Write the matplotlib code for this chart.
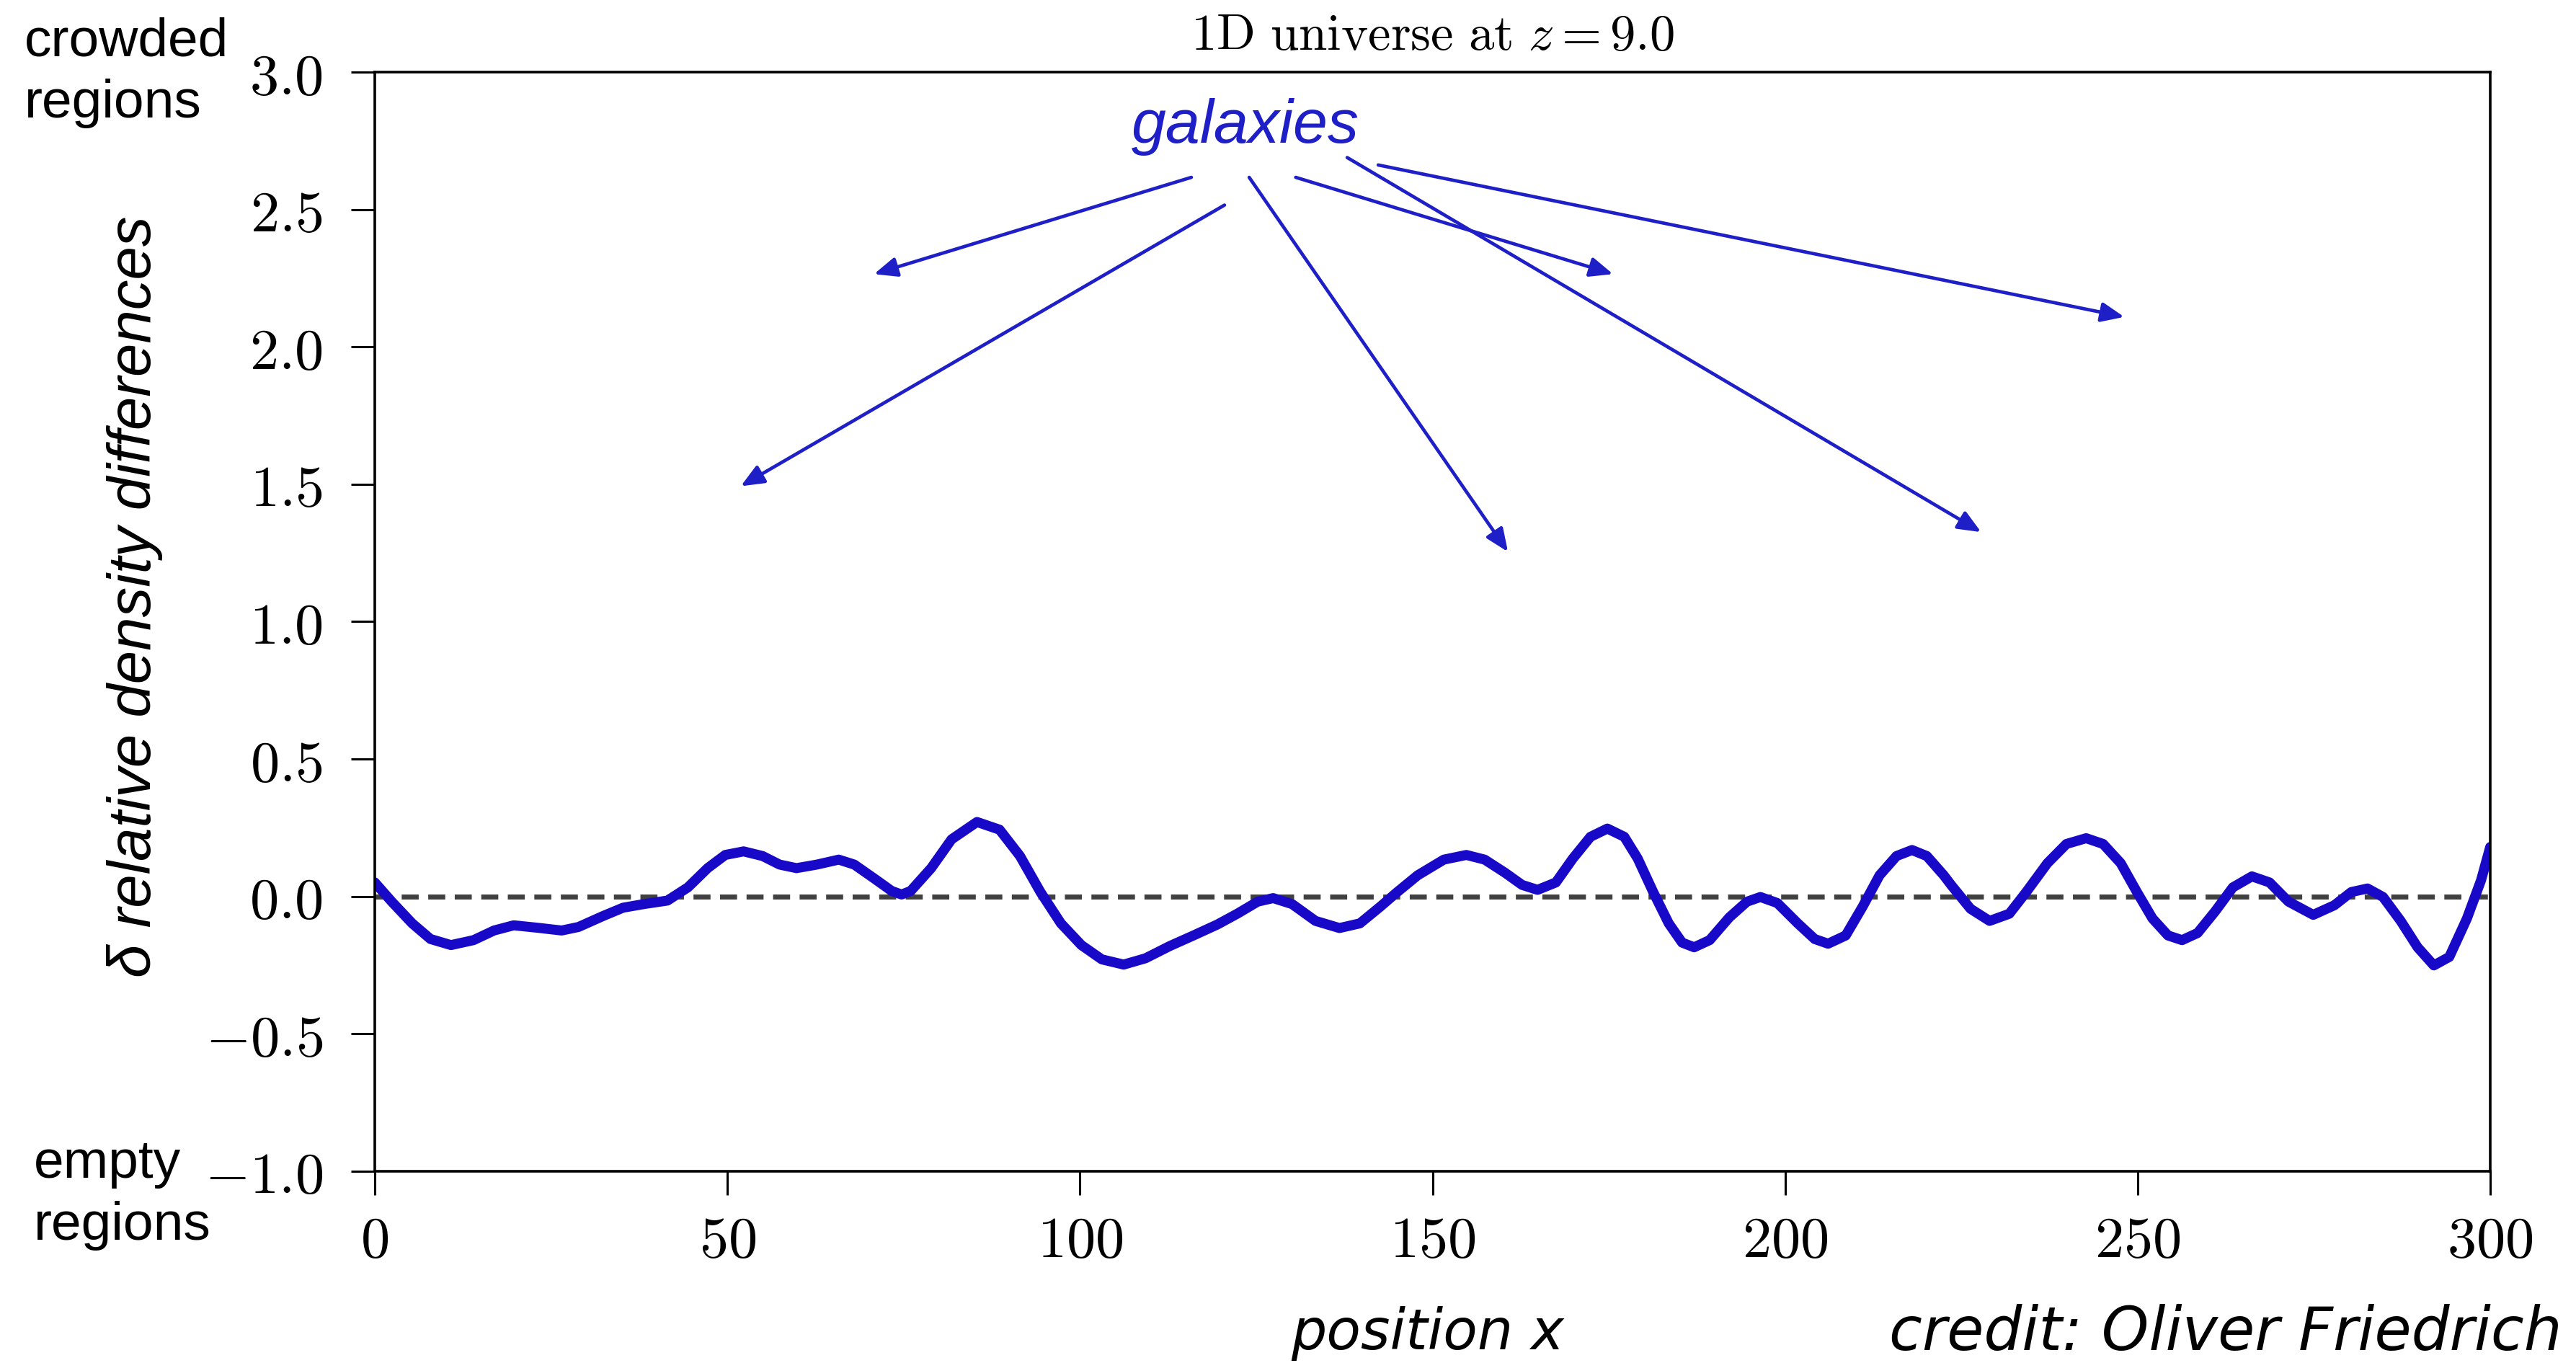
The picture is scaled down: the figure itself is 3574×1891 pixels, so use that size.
import matplotlib
matplotlib.use("Agg")
import matplotlib.pyplot as plt
from matplotlib.ticker import FuncFormatter

plt.rcParams['mathtext.fontset'] = 'cm'

# density contrast along the 1D box
pos_x = [0.0, 2.4, 5.3, 7.9, 10.8, 14.0, 16.9, 19.7, 23.1, 26.5, 28.9, 32.3, 35.2, 38.1,
         41.5, 44.4, 47.2, 49.7, 52.3, 55.0, 57.4, 59.8, 62.7, 65.8, 68.0, 70.9, 73.3,
         74.7, 76.0, 78.9, 81.8, 85.4, 88.6, 91.5, 94.4, 97.3, 100.2, 103.1, 106.2,
         109.3, 112.7, 116.1, 119.5, 122.3, 125.2, 127.4, 130.1, 133.4, 136.8, 139.7,
         142.6, 145.0, 147.9, 151.6, 154.8, 157.4, 160.3, 162.7, 164.9, 167.5, 169.9,
         172.4, 174.8, 177.2, 179.1, 181.3, 183.5, 185.4, 187.1, 189.3, 192.1, 194.6,
         196.5, 198.9, 201.8, 204.2, 206.1, 208.6, 211.0, 213.4, 215.8, 218.0, 220.1,
         222.5, 223.6, 226.3, 229.0, 231.8, 234.2, 237.2, 239.9, 242.7, 245.1, 247.6,
         249.9, 252.1, 254.3, 256.3, 258.5, 261.0, 263.5, 266.2, 268.7, 271.4, 274.9,
         277.9, 280.3, 282.6, 284.8, 287.3, 289.7, 292.0, 294.2, 296.7, 298.7, 300.0]
delta = [0.051, -0.019, -0.098, -0.155, -0.177, -0.159, -0.124, -0.105, -0.114, -0.124,
         -0.111, -0.072, -0.041, -0.028, -0.015, 0.033, 0.103, 0.151, 0.164, 0.147, 0.116,
         0.103, 0.116, 0.134, 0.116, 0.064, 0.020, 0.007, 0.020, 0.103, 0.208, 0.271,
         0.243, 0.147, 0.016, -0.098, -0.177, -0.229, -0.248, -0.225, -0.181, -0.142,
         -0.102, -0.063, -0.019, -0.006, -0.028, -0.089, -0.115, -0.098, -0.037, 0.016,
         0.077, 0.134, 0.151, 0.134, 0.086, 0.042, 0.024, 0.051, 0.138, 0.217, 0.247,
         0.217, 0.138, 0.016, -0.098, -0.168, -0.185, -0.159, -0.076, -0.019, -0.002,
         -0.024, -0.098, -0.155, -0.172, -0.142, -0.037, 0.077, 0.147, 0.169, 0.147,
         0.077, 0.040, -0.045, -0.089, -0.063, 0.016, 0.121, 0.191, 0.212, 0.191, 0.121,
         0.016, -0.080, -0.142, -0.159, -0.133, -0.054, 0.033, 0.073, 0.051, -0.019,
         -0.067, -0.032, 0.016, 0.029, -0.002, -0.089, -0.185, -0.251, -0.220, -0.080,
         0.059, 0.180]

x_ticks = [0, 50, 100, 150, 200, 250, 300]
y_ticks = [-1.0, -0.5, 0.0, 0.5, 1.0, 1.5, 2.0, 2.5, 3.0]

# "galaxies" arrows: tail and head in data units
arrow_tails = [(115.8, 2.617), (120.5, 2.516), (124.0, 2.617),
               (130.6, 2.617), (137.9, 2.689), (142.3, 2.662)]
arrow_heads = [(70.8, 2.265), (51.9, 1.493), (160.7, 1.254),
               (175.6, 2.265), (227.8, 1.326), (248.1, 2.109)]

curve_blue = '#1808c8'
note_blue = '#1f1fc8'

fig = plt.figure(figsize=(17.87, 9.455), dpi=200)
ax = fig.add_axes([0.1455, 0.1407, 0.8212, 0.8064])

ax.axhline(0, color='#404040', lw=2.5, dashes=(3.4, 1.9), zorder=1)
ax.plot(pos_x, delta, color=curve_blue, lw=5.0, solid_joinstyle='round',
        solid_capstyle='round', zorder=2)

ax.set_xlim(0, 300)
ax.set_ylim(-1.0, 3.0)
ax.set_xticks(x_ticks)
ax.set_yticks(y_ticks)
ax.xaxis.set_major_formatter(FuncFormatter(lambda v, p: f"${v:.0f}$"))
ax.yaxis.set_major_formatter(FuncFormatter(lambda v, p: f"${v:.1f}$"))
ax.tick_params(axis='both', direction='out', length=12, width=1.1, labelsize=29)
ax.tick_params(axis='y', pad=14)
ax.tick_params(axis='x', pad=9)
for s in ax.spines.values():
    s.set_linewidth(1.3)

ax.set_title(r"$\mathrm{1D\ universe\ at}\ z = 9.0$", fontsize=25.5, pad=11)

for (tx, ty), (hx, hy) in zip(arrow_tails, arrow_heads):
    ax.annotate("", xy=(hx, hy), xytext=(tx, ty),
                arrowprops=dict(arrowstyle='-|>,head_length=0.4,head_width=0.17',
                                mutation_scale=24, color=note_blue, lw=1.7,
                                shrinkA=0, shrinkB=0))
ax.text(123.5, 2.80, "galaxies", color=note_blue, fontsize=31, style='italic',
        family='Liberation Sans', ha='center', va='center')

fig.text(34 / 3574, 1 - 23 / 1891, "crowded\nregions", fontsize=27,
         family='Liberation Sans', ha='left', va='top', linespacing=1.32)
fig.text(47 / 3574, 1 - 1580 / 1891, "empty\nregions", fontsize=27,
         family='Liberation Sans', ha='left', va='top', linespacing=1.32)
fig.text(187 / 3574, 1 - 828 / 1891, "δ relative density differences", fontsize=30,
         family='Liberation Sans', style='italic', rotation=90,
         ha='center', va='center')
fig.text(1981 / 3574, 1 - 1872 / 1891, "position x", fontsize=28,
         family='DejaVu Sans', style='italic', ha='center', va='baseline')
fig.text(3555 / 3574, 1 - 1873 / 1891, "credit: Oliver Friedrich", fontsize=30,
         family='DejaVu Sans', style='italic', ha='right', va='baseline')

fig.savefig("out.png", dpi=200)
